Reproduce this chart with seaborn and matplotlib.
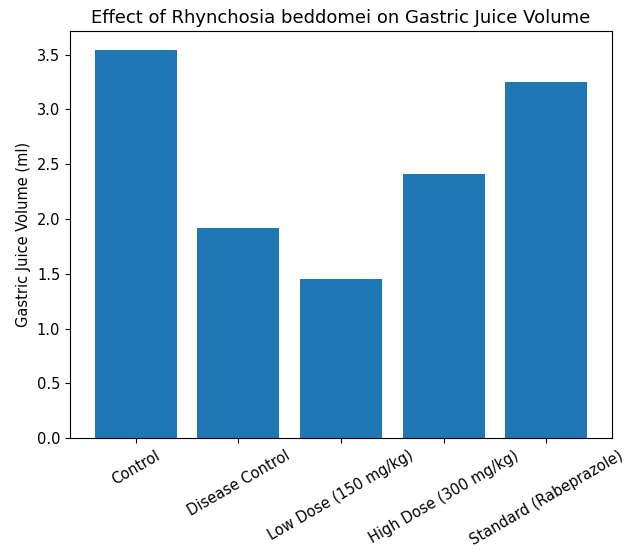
import matplotlib
matplotlib.use('Agg')
import matplotlib.pyplot as plt
import pandas as pd
import seaborn as sns

groups = ['Control', 'Disease Control', 'Low Dose (150 mg/kg)',
          'High Dose (300 mg/kg)', 'Standard (Rabeprazole)']
volume = [3.54, 1.92, 1.45, 2.41, 3.25]

df = pd.DataFrame({'group': groups, 'volume': volume})

sns.set_style('ticks')
plt.rcParams['font.family'] = ['DejaVu Sans']
plt.rcParams['text.color'] = 'black'
plt.rcParams['axes.labelcolor'] = 'black'
plt.rcParams['xtick.color'] = 'black'
plt.rcParams['ytick.color'] = 'black'

fig, ax = plt.subplots(figsize=(6.28, 5.52), dpi=100)
sns.barplot(df, x='group', y='volume', color='#1f77b4', saturation=1,
            width=0.8, linewidth=0, ax=ax)
ax.set_xlabel('')
ax.set_ylabel('Gastric Juice Volume (ml)', fontsize=10.5)
ax.set_title('Effect of Rhynchosia beddomei on Gastric Juice Volume',
             fontsize=13)
ax.set_xlim(-0.64, 4.64)
ax.set_ylim(0, 3.54 * 1.05)
ax.tick_params(axis='x', rotation=30, labelsize=10.5)
ax.tick_params(axis='y', labelsize=10.5)
for s in ax.spines.values():
    s.set_visible(True)
    s.set_color('black')
    s.set_linewidth(0.8)

fig.subplots_adjust(left=0.1115, right=0.9745, top=0.944, bottom=0.206)
fig.savefig('out.png', dpi=100)
